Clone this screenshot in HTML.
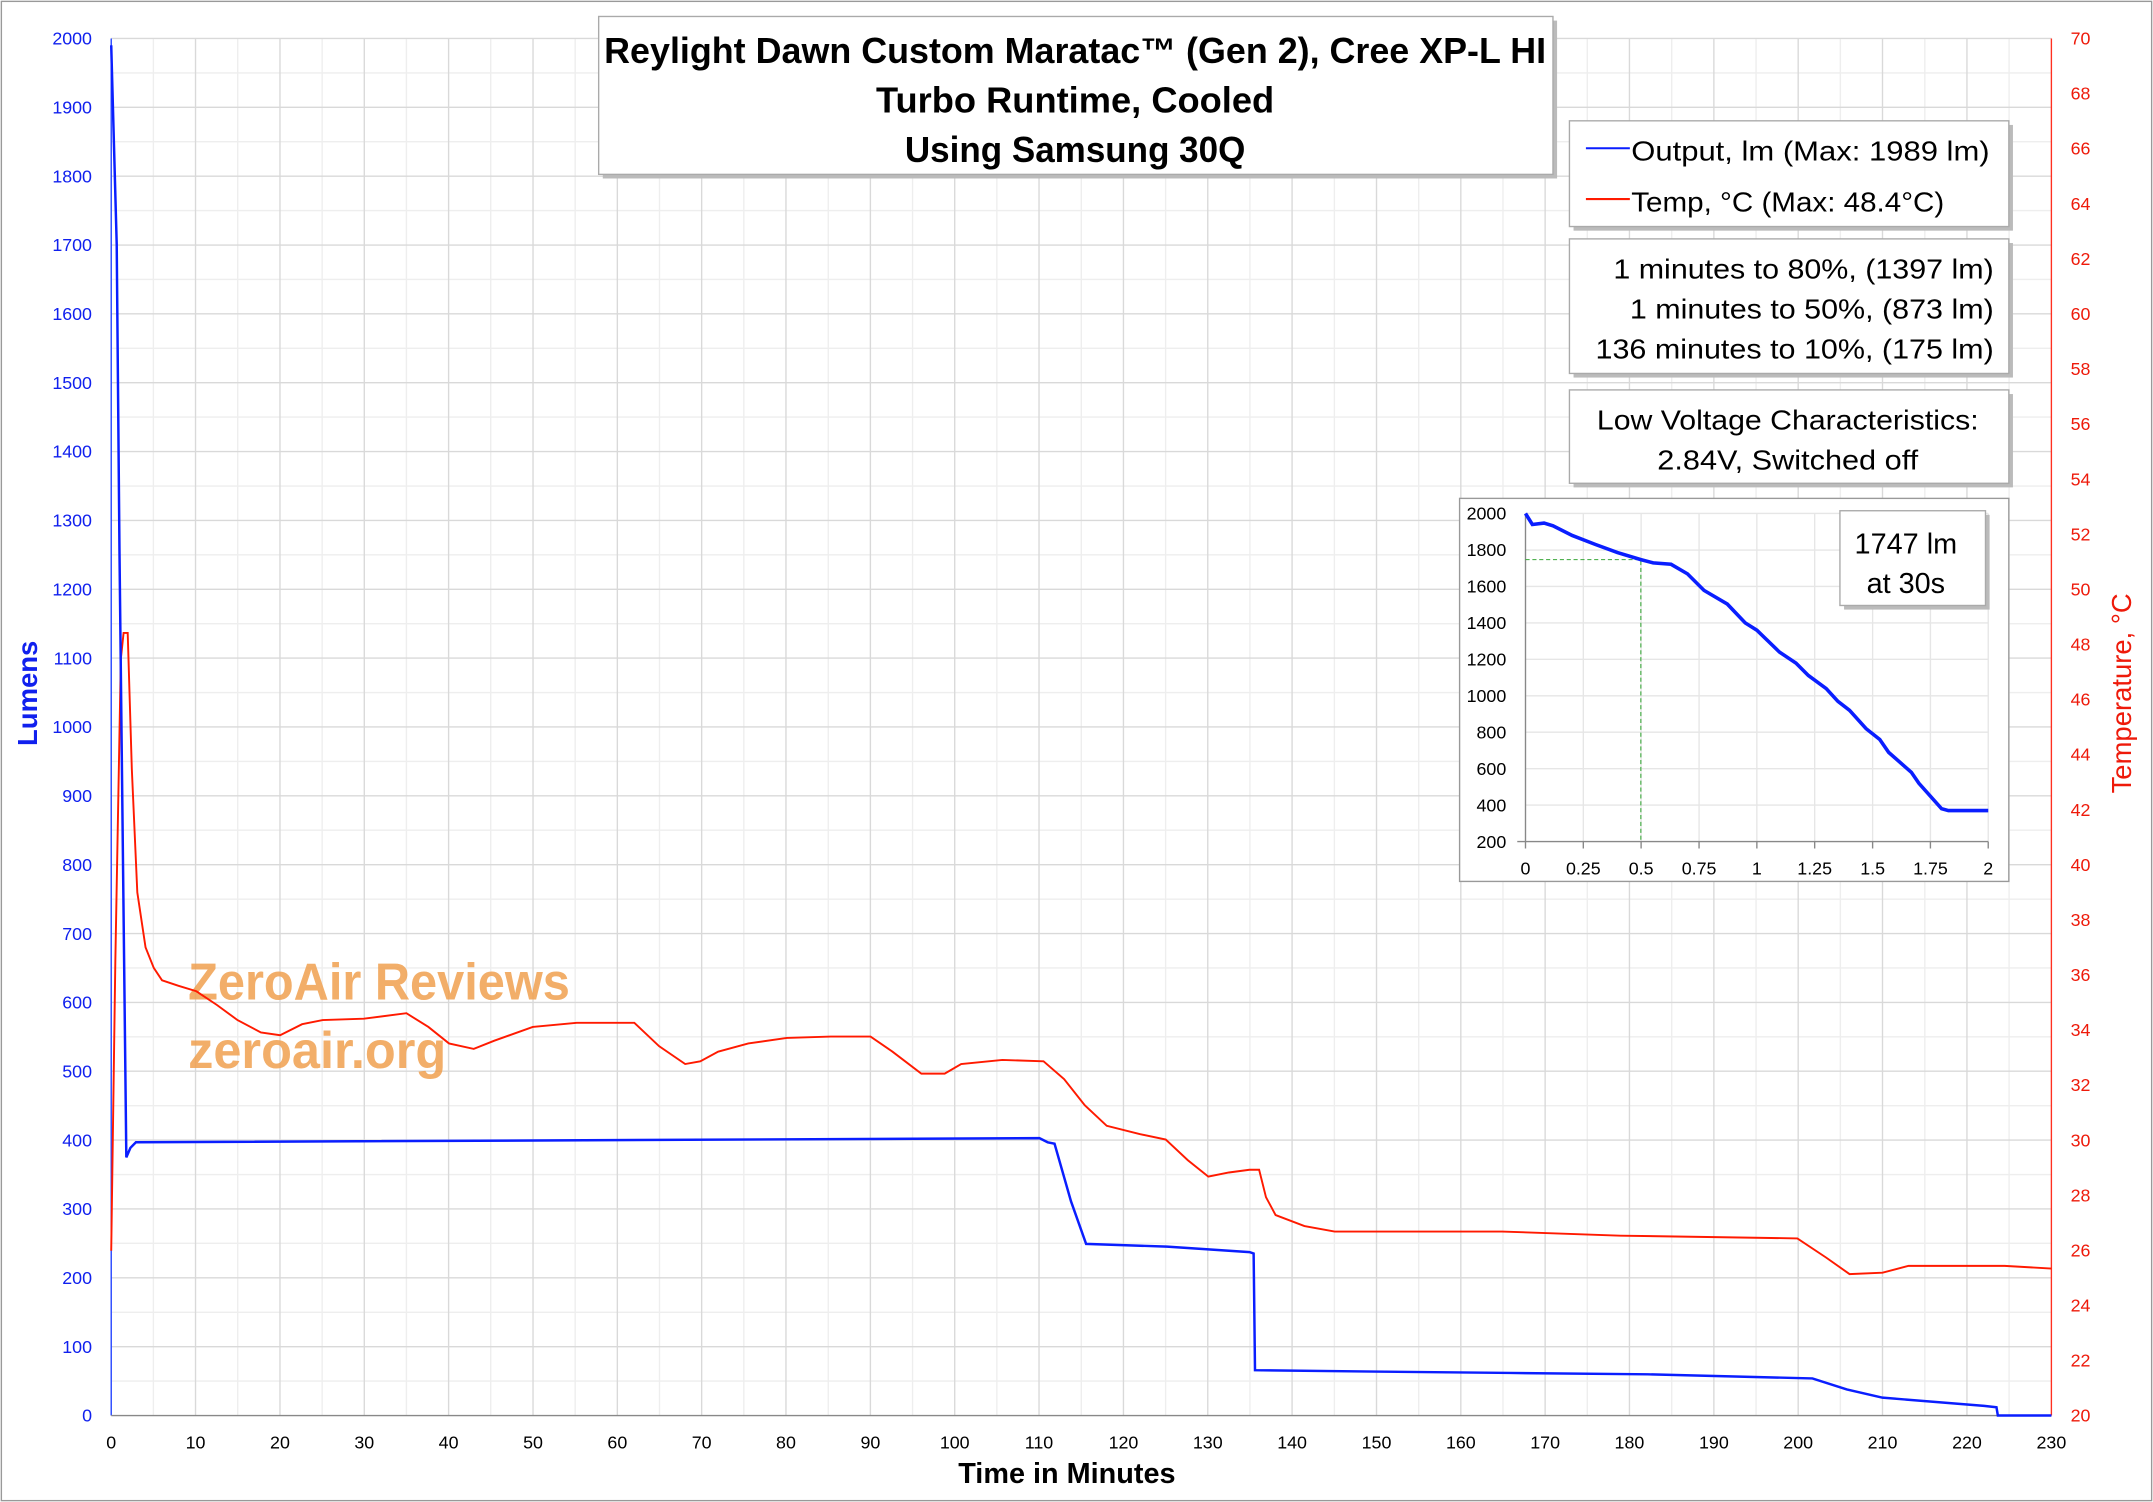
<!DOCTYPE html>
<html><head><meta charset="utf-8"><style>html,body{margin:0;padding:0;background:#fff}svg{display:block}</style></head>
<body>
<svg width="2153" height="1502" viewBox="0 0 1568 1094" preserveAspectRatio="none" xmlns="http://www.w3.org/2000/svg" font-family="'Liberation Sans', sans-serif">
<rect x="0" y="0" width="1568" height="1094" fill="#fff"/>
<rect x="1" y="1" width="1566" height="1092" fill="none" stroke="#999" stroke-width="1"/>
<!-- minor grid -->
<g stroke="#eeeeee" stroke-width="1">
<path d="M81,1005.9H1494M81,955.8H1494M81,905.6H1494M81,855.5H1494M81,805.3H1494M81,755.2H1494M81,705H1494M81,654.9H1494M81,604.7H1494M81,554.6H1494M81,504.4H1494M81,454.3H1494M81,404.1H1494M81,354H1494M81,303.8H1494M81,253.7H1494M81,203.5H1494M81,153.4H1494M81,103.2H1494M81,53.1H1494"/>
<path d="M111.7,28V1031M173.1,28V1031M234.6,28V1031M296,28V1031M357.4,28V1031M418.9,28V1031M480.3,28V1031M541.7,28V1031M603.2,28V1031M664.6,28V1031M726,28V1031M787.5,28V1031M848.9,28V1031M910.3,28V1031M971.8,28V1031M1033.2,28V1031M1094.6,28V1031M1156,28V1031M1217.5,28V1031M1278.9,28V1031M1340.3,28V1031M1401.8,28V1031M1463.2,28V1031"/>
</g>
<g stroke="#d9d9d9" stroke-width="1">
<path d="M81,980.85H1494M81,930.7H1494M81,880.55H1494M81,830.4H1494M81,780.25H1494M81,730.1H1494M81,679.95H1494M81,629.8H1494M81,579.65H1494M81,529.5H1494M81,479.35H1494M81,429.2H1494M81,379.05H1494M81,328.9H1494M81,278.75H1494M81,228.6H1494M81,178.45H1494M81,128.3H1494M81,78.15H1494M81,28H1494"/>
<path d="M142.4,28V1031M203.9,28V1031M265.3,28V1031M326.7,28V1031M388.2,28V1031M449.6,28V1031M511,28V1031M572.4,28V1031M633.9,28V1031M695.3,28V1031M756.7,28V1031M818.2,28V1031M879.6,28V1031M941,28V1031M1002.5,28V1031M1063.9,28V1031M1125.3,28V1031M1186.7,28V1031M1248.2,28V1031M1309.6,28V1031M1371,28V1031M1432.5,28V1031"/>
</g>
<!-- axes -->
<line x1="81" y1="28" x2="81" y2="1031" stroke="#2040ff" stroke-width="1"/>
<line x1="1494" y1="28" x2="1494" y2="1031" stroke="#ff3020" stroke-width="1"/>
<line x1="81" y1="1031" x2="1494" y2="1031" stroke="#888" stroke-width="1"/>
<!-- left labels -->
<g fill="#1020ee" font-size="13" text-anchor="end">
<text x="67" y="1035.5">0</text><text x="67" y="985.4">100</text><text x="67" y="935.2">200</text><text x="67" y="885">300</text><text x="67" y="834.9">400</text><text x="67" y="784.7">500</text><text x="67" y="734.6">600</text><text x="67" y="684.5">700</text><text x="67" y="634.3">800</text><text x="67" y="584.2">900</text><text x="67" y="534">1000</text><text x="67" y="483.9">1100</text><text x="67" y="433.7">1200</text><text x="67" y="383.6">1300</text><text x="67" y="333.4">1400</text><text x="67" y="283.3">1500</text><text x="67" y="233.1">1600</text><text x="67" y="183">1700</text><text x="67" y="132.8">1800</text><text x="67" y="82.7">1900</text><text x="67" y="32.5">2000</text>
</g>
<g fill="#ee1a0a" font-size="13">
<text x="1508" y="1035.5">20</text><text x="1508" y="995.4">22</text><text x="1508" y="955.3">24</text><text x="1508" y="915.1">26</text><text x="1508" y="875">28</text><text x="1508" y="834.9">30</text><text x="1508" y="794.8">32</text><text x="1508" y="754.7">34</text><text x="1508" y="714.5">36</text><text x="1508" y="674.4">38</text><text x="1508" y="634.3">40</text><text x="1508" y="594.2">42</text><text x="1508" y="554.1">44</text><text x="1508" y="513.9">46</text><text x="1508" y="473.8">48</text><text x="1508" y="433.7">50</text><text x="1508" y="393.6">52</text><text x="1508" y="353.5">54</text><text x="1508" y="313.3">56</text><text x="1508" y="273.2">58</text><text x="1508" y="233.1">60</text><text x="1508" y="193">62</text><text x="1508" y="152.9">64</text><text x="1508" y="112.7">66</text><text x="1508" y="72.6">68</text><text x="1508" y="32.5">70</text>
</g>
<g fill="#000" font-size="13" text-anchor="middle">
<text x="81" y="1055">0</text><text x="142.4" y="1055">10</text><text x="203.9" y="1055">20</text><text x="265.3" y="1055">30</text><text x="326.7" y="1055">40</text><text x="388.2" y="1055">50</text><text x="449.6" y="1055">60</text><text x="511" y="1055">70</text><text x="572.4" y="1055">80</text><text x="633.9" y="1055">90</text><text x="695.3" y="1055">100</text><text x="756.7" y="1055">110</text><text x="818.2" y="1055">120</text><text x="879.6" y="1055">130</text><text x="941" y="1055">140</text><text x="1002.5" y="1055">150</text><text x="1063.9" y="1055">160</text><text x="1125.3" y="1055">170</text><text x="1186.7" y="1055">180</text><text x="1248.2" y="1055">190</text><text x="1309.6" y="1055">200</text><text x="1371" y="1055">210</text><text x="1432.5" y="1055">220</text><text x="1494" y="1055">230</text>
</g>
<text x="777" y="1080" text-anchor="middle" font-size="21" font-weight="bold">Time in Minutes</text>
<text transform="translate(27,505) rotate(-90)" text-anchor="middle" font-size="20" font-weight="bold" fill="#1020ee">Lumens</text>
<text transform="translate(1552,505) rotate(-90)" text-anchor="middle" font-size="20" fill="#ee1a0a">Temperature, °C</text>
<!-- watermark -->
<g font-size="38" font-weight="bold" fill="#f0a050" opacity="0.85">
<text x="137" y="728" textLength="278" lengthAdjust="spacingAndGlyphs">ZeroAir Reviews</text>
<text x="137" y="778" textLength="188" lengthAdjust="spacingAndGlyphs">zeroair.org</text>
</g>
<!-- series -->
<path fill="none" stroke="#ff1a00" stroke-width="1.4" d="M81,911 L84,700 L88,480 L90,461 L93,461 L96,560 L100,650 L106,690 L112,705 L118,714 L130,718 L143,722 L158,732 L173,743 L190,752 L204,754 L220,746 L235,743 L265,742 L296,738 L312,748 L327,760 L345,764 L360,758 L388,748 L420,745 L462,745 L480,762 L499,775 L510,773 L523,766 L545,760 L573,756 L605,755 L634,755 L650,766 L671,782 L688,782 L700,775 L730,772 L760,773 L775,786 L790,805 L806,820 L830,826 L849,830 L865,845 L880,857 L895,854 L910,852 L917,852 L922,872 L929,885 L950,893 L972,897 L1094,897 L1180,900 L1309,902 L1330,916 L1347,928 L1371,927 L1390,922 L1460,922 L1494,924"/>
<path fill="none" stroke="#0a1eff" stroke-width="1.8" d="M81,33 L85,178 L87,400 L92,843 L95,836 L99,832 L757,829 L763,832 L768,833 L780,875 L791,906 L850,908 L910,912 L913,913 L914,998 L1000,999 L1100,1000 L1200,1001 L1320,1004 L1345,1012 L1371,1018 L1445,1024 L1454,1025 L1455,1031 L1494,1031"/>
<!-- title -->
<rect x="439" y="15" width="695" height="115" fill="#bbb"/>
<rect x="436" y="12" width="695" height="115" fill="#fff" stroke="#aaa"/>
<g font-size="26" font-weight="bold" text-anchor="middle">
<text x="783" y="46" textLength="686" lengthAdjust="spacingAndGlyphs">Reylight Dawn Custom Maratac™ (Gen 2), Cree XP-L HI</text>
<text x="783" y="82" textLength="290" lengthAdjust="spacingAndGlyphs">Turbo Runtime, Cooled</text>
<text x="783" y="118" textLength="248" lengthAdjust="spacingAndGlyphs">Using Samsung 30Q</text>
</g>
<!-- legend -->
<rect x="1146" y="91" width="320" height="77" fill="#bbb"/>
<rect x="1143" y="88" width="320" height="77" fill="#fff" stroke="#aaa"/>
<line x1="1155" y1="108" x2="1187" y2="108" stroke="#0a1eff" stroke-width="1.5"/>
<line x1="1155" y1="145" x2="1187" y2="145" stroke="#ff1a00" stroke-width="1.5"/>
<g font-size="20">
<text x="1188" y="117" textLength="261" lengthAdjust="spacingAndGlyphs">Output, lm (Max: 1989 lm)</text>
<text x="1188" y="154" textLength="228" lengthAdjust="spacingAndGlyphs">Temp, °C (Max: 48.4°C)</text>
</g>
<rect x="1146" y="177" width="320" height="98" fill="#bbb"/>
<rect x="1143" y="174" width="320" height="98" fill="#fff" stroke="#aaa"/>
<g font-size="20" text-anchor="end">
<text x="1452" y="203" textLength="277" lengthAdjust="spacingAndGlyphs">1 minutes to 80%, (1397 lm)</text>
<text x="1452" y="232" textLength="265" lengthAdjust="spacingAndGlyphs">1 minutes to 50%, (873 lm)</text>
<text x="1452" y="261" textLength="290" lengthAdjust="spacingAndGlyphs">136 minutes to 10%, (175 lm)</text>
</g>
<rect x="1146" y="287" width="320" height="68" fill="#bbb"/>
<rect x="1143" y="284" width="320" height="68" fill="#fff" stroke="#aaa"/>
<g font-size="20" text-anchor="middle">
<text x="1302" y="313" textLength="278" lengthAdjust="spacingAndGlyphs">Low Voltage Characteristics:</text>
<text x="1302" y="342" textLength="190" lengthAdjust="spacingAndGlyphs">2.84V, Switched off</text>
</g>
<!-- inset -->
<rect x="1063" y="363" width="400" height="279" fill="#fff" stroke="#999"/>
<g stroke="#e6e6e6" stroke-width="1">
<path d="M1111,374H1448M1111,400.6H1448M1111,427.1H1448M1111,453.7H1448M1111,480.2H1448M1111,506.8H1448M1111,533.3H1448M1111,559.9H1448M1111,586.4H1448"/>
<path d="M1153.1,374V613M1195.2,374V613M1237.4,374V613M1279.5,374V613M1321.6,374V613M1363.8,374V613M1405.9,374V613M1448,374V613"/>
</g>
<path d="M1111,374V613H1448M1105,613H1111M1153.1,613v5M1195.2,613v5M1237.4,613v5M1279.5,613v5M1321.6,613v5M1363.8,613v5M1405.9,613v5M1448,613v5M1111,613v5" stroke="#888" fill="none"/>
<g font-size="13" text-anchor="end">
<text x="1097" y="378.5">2000</text><text x="1097" y="405">1800</text><text x="1097" y="431.6">1600</text><text x="1097" y="458.2">1400</text><text x="1097" y="484.7">1200</text><text x="1097" y="511.3">1000</text><text x="1097" y="537.8">800</text><text x="1097" y="564.4">600</text><text x="1097" y="590.9">400</text><text x="1097" y="617.5">200</text>
</g>
<g font-size="13" text-anchor="middle">
<text x="1111" y="637">0</text><text x="1153.1" y="637">0.25</text><text x="1195.2" y="637">0.5</text><text x="1237.4" y="637">0.75</text><text x="1279.5" y="637">1</text><text x="1321.6" y="637">1.25</text><text x="1363.8" y="637">1.5</text><text x="1405.9" y="637">1.75</text><text x="1448" y="637">2</text>
</g>
<path d="M1111,407.6H1195V613" fill="none" stroke="#3aa83a" stroke-width="0.8" stroke-dasharray="3,2"/>
<path fill="none" stroke="#0a1eff" stroke-width="2.6" d="M1111,374 L1116,382 L1124.5,381 L1131,383 L1145,390 L1162,396.6 L1178,402.5 L1195,407.6 L1204,410 L1217,411 L1229,418 L1241,430 L1258,440 L1271,453.7 L1279.5,459 L1296,475 L1308,483 L1317,492 L1330,501.5 L1338.5,510.8 L1347,517.4 L1359,530.7 L1369,538.6 L1375.5,548 L1392,562.5 L1397.5,570.5 L1414,589 L1419,590.4 L1448,590.4"/>
<rect x="1343" y="375" width="106" height="69" fill="#bbb"/>
<rect x="1340" y="372" width="106" height="69" fill="#fff" stroke="#aaa"/>
<g font-size="21" text-anchor="middle">
<text x="1388" y="403">1747 lm</text>
<text x="1388" y="432">at 30s</text>
</g>
</svg>
</body></html>
